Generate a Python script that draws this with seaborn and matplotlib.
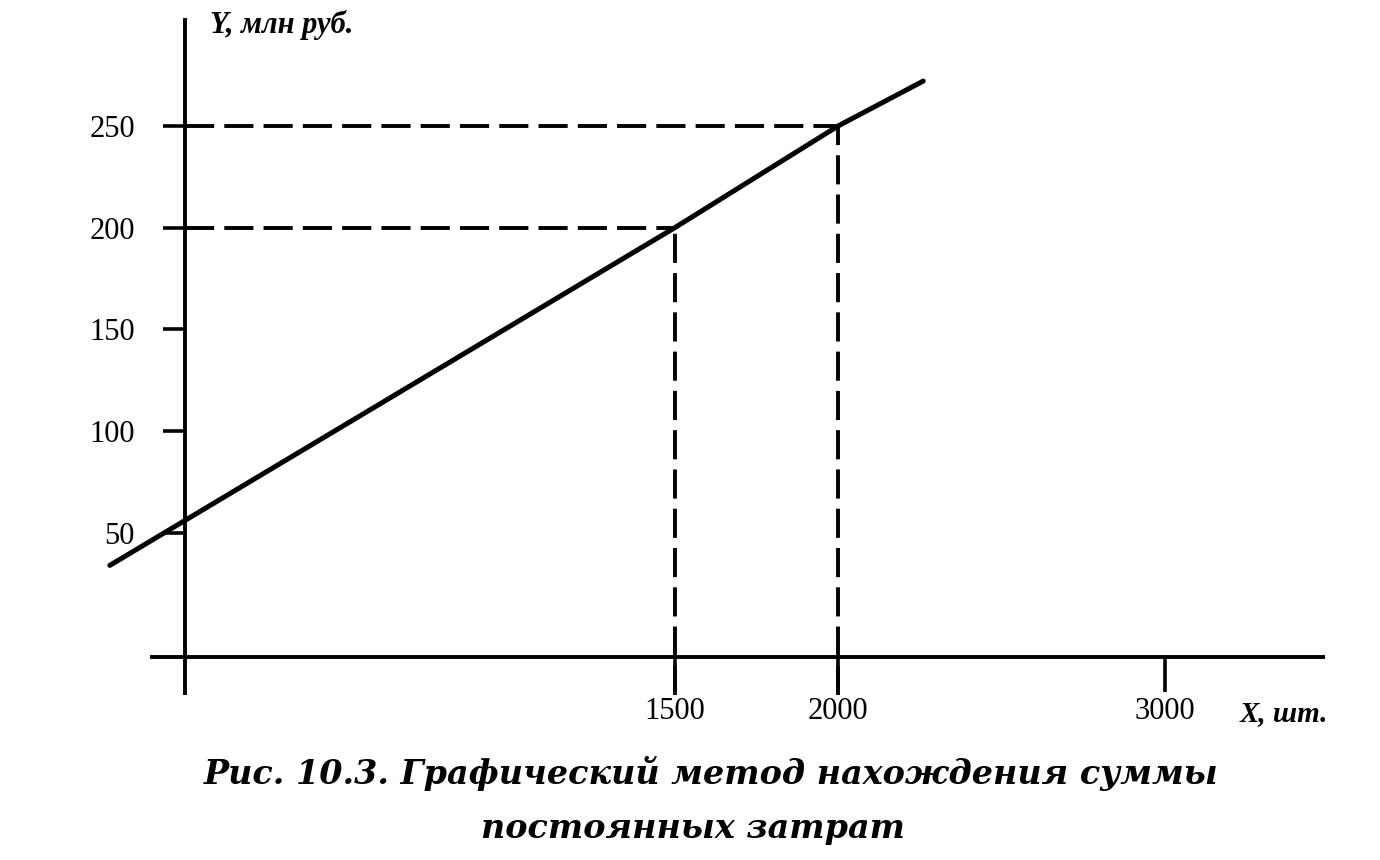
#!/usr/bin/env python3
"""Graphical method for finding fixed costs (Fig. 10.3)."""

import matplotlib
matplotlib.use("Agg")
import matplotlib.pyplot as plt
import pandas as pd
import seaborn as sns

# cost line (quantity, cost in mln rub)
LINE_X = [-230, 1500, 2000, 2260]
LINE_Y = [34, 200, 250, 272]

# reference points with guide lines
GUIDE_X = [1500, 2000]
GUIDE_Y = [200, 250]

Y_TICKS = [50, 100, 150, 200, 250]
X_TICKS = [1500, 2000, 3000]

SERIF = ["Liberation Serif", "DejaVu Serif"]


def main() -> None:
    sns.set_theme(style="white")
    plt.rcParams["font.family"] = SERIF
    plt.rcParams["text.color"] = "black"
    plt.rcParams["xtick.color"] = "black"
    plt.rcParams["ytick.color"] = "black"

    fig = plt.figure(figsize=(13.8, 8.6), dpi=100)
    ax = fig.add_axes([150 / 1380, 1 - 695 / 860, 1175 / 1380, 677 / 860])

    df = pd.DataFrame({"x": LINE_X, "y": LINE_Y})
    sns.lineplot(data=df, x="x", y="y", color="black", linewidth=3.6,
                 solid_capstyle="round", ax=ax, clip_on=False, sort=False)

    dash = (0, (7.5, 2.6))
    ax.hlines(GUIDE_Y, xmin=0, xmax=GUIDE_X, colors="black",
              linewidth=2.8, linestyles=[dash], clip_on=False)
    ax.vlines(GUIDE_X, ymin=-29.7, ymax=GUIDE_Y, colors="black",
              linewidth=2.8, linestyles=[dash], clip_on=False)

    ax.set_xlim(-107, 3490)
    ax.set_ylim(-29.7, 303)

    for side in ("top", "right"):
        ax.spines[side].set_visible(False)
    ax.spines["left"].set_position(("data", 0))
    ax.spines["bottom"].set_position(("data", -11))
    for side in ("left", "bottom"):
        ax.spines[side].set_linewidth(2.8)
        ax.spines[side].set_color("black")
        ax.spines[side].set_capstyle("butt")

    ax.set_xticks(X_TICKS)
    ax.set_yticks(Y_TICKS)
    ax.tick_params(axis="y", direction="out", length=16, width=2.6,
                   color="black", labelcolor="black", pad=20,
                   labelsize=22, left=True)
    ax.tick_params(axis="x", direction="out", length=25, width=2.6,
                   color="black", labelcolor="black", pad=4,
                   labelsize=22, bottom=True)
    ax.set_xlabel("")
    ax.set_ylabel("")
    ax.grid(False)

    fig.text(210 / 1380, 1 - 33 / 860, "Y, млн руб.", fontsize=22,
             style="italic", weight="bold", va="baseline", ha="left")
    fig.text(1240 / 1380, 1 - 721 / 860, "X, шт.", fontsize=21,
             style="italic", weight="bold", va="baseline", ha="left")

    fig.text(711 / 1380, 1 - 784 / 860,
             "Рис. 10.3. Графический метод нахождения суммы",
             fontsize=24, style="italic", weight="bold",
             family=["DejaVu Serif"], va="baseline", ha="center")
    fig.text(693 / 1380, 1 - 838 / 860, "постоянных затрат",
             fontsize=24, style="italic", weight="bold",
             family=["DejaVu Serif"], va="baseline", ha="center")

    fig.savefig("out.png", dpi=100, facecolor="white")
    plt.close(fig)


if __name__ == "__main__":
    main()
